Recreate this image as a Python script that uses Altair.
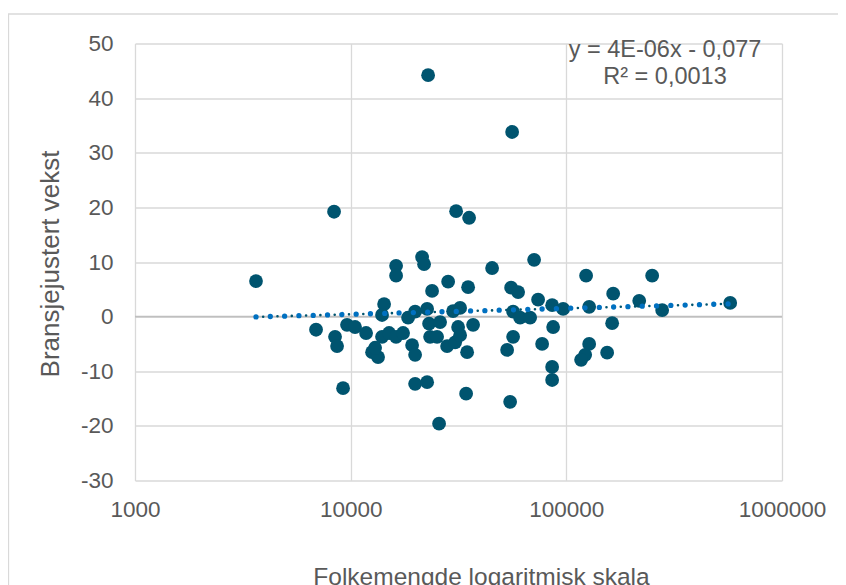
import altair as alt
import pandas as pd

# Population (log x) and industry-adjusted growth
pop = [3640, 8375, 6910, 8465, 8650, 9220, 9620,
       10480, 11790, 13980, 15070, 16240, 17500,
       12570, 13400, 12980, 14290, 13980, 16240, 16240,
       18460, 19900, 19270, 19900, 19900, 22620,
       21440, 21900, 22620, 23850, 23100, 25980,
       23350, 25160, 28000, 30500, 32170, 31490,
       28310, 29850, 32170, 35040, 36960, 34670,
       34300, 25700, 45270, 70900, 55460, 59770,
       73980, 85930, 96650, 56660, 61050, 67940,
       86850, 56660, 77220, 53140, 85930, 85930,
       54880, 56070, 30830, 35420, 22860,
       123500, 250000, 164900, 217700, 127600, 278200,
       575100, 163100, 127600, 122300, 117100, 154600]
growth = [6.5, 19.2, -2.4, -3.7, -5.4, -13.1, -1.5,
          -1.9, -3.0, -3.7, -3.0, -3.7, -3.0,
          -6.5, -7.4, -5.7, 2.3, 0.3, 9.3, 7.5,
          -0.2, 0.9, -5.2, -7.0, -12.3, -12.0,
          10.9, 9.6, 1.4, 4.7, -1.3, -1.0,
          -3.7, -3.7, -5.4, -4.7, -3.4, -1.9,
          6.4, 1.0, 1.6, 5.4, -1.5, -6.5,
          -14.1, -19.6, 8.9, 10.4, 5.3, 4.5,
          3.1, 2.1, 1.4, 0.9, -0.2, -0.2,
          -1.9, -3.7, -5.0, -6.1, -9.2, -11.6,
          -15.6, 33.8, 19.3, 18.1, 44.2,
          7.5, 7.5, 4.2, 2.9, 1.8, 1.2,
          2.5, -1.2, -5.0, -7.0, -7.9, -6.6]

trend_pop = [3640, 575100]
trend_val = [-0.05, 2.35]

x_ticks = [1000, 10000, 100000, 1000000]
y_ticks = [-30, -20, -10, 0, 10, 20, 30, 40, 50]
eq_lines = ["y = 4E-06x - 0,077", "R² = 0,0013"]

FONT = "Liberation Sans"
GREY = "#595959"
GRID = "#D9D9D9"
DOT = "#00546F"

df = pd.DataFrame({"pop": pop, "growth": growth})
tdf = pd.DataFrame({"pop": trend_pop, "growth": trend_val})
zdf = pd.DataFrame({"growth": [0]})
one = pd.DataFrame({"a": [0]})

xs = alt.Scale(type="log", domain=[1000, 1000000], nice=False)
ys = alt.Scale(domain=[-30, 50], nice=False, zero=False)

xax = alt.Axis(values=x_ticks, format="d", grid=True, gridColor=GRID, gridWidth=1.3,
               domain=False, ticks=False, tickSize=0, labelOverlap=False, labelFlush=False,
               labelFont=FONT, labelFontSize=22.5, labelColor=GREY, labelPadding=18,
               title="Folkemengde logaritmisk skala", titleFont=FONT, titleFontSize=24.5,
               titleFontWeight="normal", titleColor=GREY, titleX=346, titleY=103.5,
               titleBaseline="alphabetic", titleAlign="center")
yax = alt.Axis(values=y_ticks, labelExpr="'' + datum.value", grid=True, gridColor=GRID,
               gridWidth=1.3, domain=False, ticks=False, tickSize=0, labelOverlap=False,
               labelFlush=False, labelFont=FONT, labelFontSize=22.5, labelColor=GREY,
               labelPadding=22, title="Bransjejustert vekst", titleFont=FONT,
               titleFontSize=26, titleFontWeight="normal", titleColor=GREY,
               titleX=-77, titleY=220, titleBaseline="alphabetic", titleAlign="center",
               titleAngle=270)

X = alt.X("pop:Q", scale=xs, axis=xax)
Y = alt.Y("growth:Q", scale=ys, axis=yax)

zero = alt.Chart(zdf).mark_rule(color="#BFBFBF", strokeWidth=1.6).encode(y=Y)

points = alt.Chart(df).mark_circle(size=190, color=DOT, opacity=1).encode(x=X, y=Y)

trend_dark = alt.Chart(tdf).mark_line(color=DOT, strokeWidth=2.6, strokeCap="round",
                                      strokeDash=[0.01, 14.3], strokeDashOffset=7.15
                                      ).encode(x=X, y=Y)
trend_blue = alt.Chart(tdf).mark_line(color="#0070C0", strokeWidth=5.3, strokeCap="round",
                                      strokeDash=[0.01, 14.3]).encode(x=X, y=Y)

eq1 = alt.Chart(one).mark_text(align="center", baseline="alphabetic", font=FONT,
                               fontSize=23.5, color=GREY).encode(
    x=alt.value(530), y=alt.value(13.2), text=alt.value(eq_lines[0]))
eq2 = alt.Chart(one).mark_text(align="center", baseline="alphabetic", font=FONT,
                               fontSize=23.5, color=GREY).encode(
    x=alt.value(530), y=alt.value(40.5), text=alt.value(eq_lines[1]))

frame_top = alt.Chart(one).mark_rule(color=GRID, strokeWidth=1.3).encode(
    x=alt.value(-127), x2=alt.value(720), y=alt.value(-29.5))
frame_left = alt.Chart(one).mark_rule(color=GRID, strokeWidth=1.3).encode(
    x=alt.value(-126.5), y=alt.value(-29.5), y2=alt.value(560))

chart = alt.layer(frame_top, frame_left, zero, points, trend_dark, trend_blue, eq1, eq2).properties(
    width=647, height=437,
    padding={"left": 127, "top": 35.5, "right": 56, "bottom": 110},
    autosize=alt.AutoSizeParams(type="none"),
    background="white",
).configure_view(stroke=None)

chart.save("out.html", embed_options={"renderer": "svg", "actions": False})
